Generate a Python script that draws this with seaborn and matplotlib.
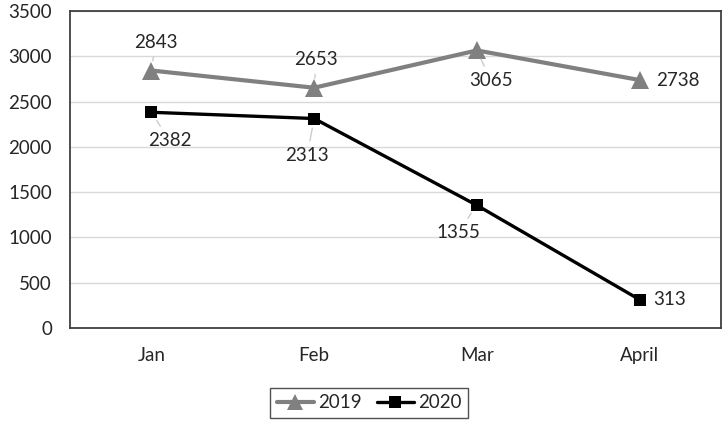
import pandas as pd
import seaborn as sns
import matplotlib.pyplot as plt

months = ["Jan", "Feb", "Mar", "April"]
values_2019 = [2843, 2653, 3065, 2738]
values_2020 = [2382, 2313, 1355, 313]

# label offsets in pixels (dx, dy), and whether a leader line is drawn
offsets_2019 = [(4, 28), (2, 28), (14, -30), (38, 0)]
leaders_2019 = [True, True, True, False]
offsets_2020 = [(18, -28), (-7, -37), (-19, -27), (30, 0)]
leaders_2020 = [True, True, True, False]

df = pd.DataFrame({
    "month": months * 2,
    "value": values_2019 + values_2020,
    "year": ["2019"] * 4 + ["2020"] * 4,
})

sns.set_theme(style="white")
plt.rcParams["font.family"] = ["Lato", "DejaVu Sans"]
FS = 13.5

fig = plt.figure(figsize=(7.22, 4.24), dpi=100)
ax = fig.add_axes([0.097, 0.2264, 0.9016, 0.7476])

palette = {"2019": "#808080", "2020": "#000000"}
sns.lineplot(data=df, x="month", y="value", hue="year", style="year",
             palette=palette, markers={"2019": "^", "2020": "s"},
             dashes=False, markersize=11, markeredgewidth=0,
             ax=ax, legend=False, sort=False)
for line, lw in zip(ax.lines, [3.0, 2.4]):
    line.set_linewidth(lw)
ax.lines[0].set_markersize(13)
ax.lines[1].set_markersize(9)

ax.set_xlim(-0.5, 3.5)
ax.set_ylim(0, 3500)
ax.set_yticks(range(0, 3501, 500))
ax.yaxis.grid(True, color="#d9d9d9", linewidth=1)
ax.set_axisbelow(True)
ax.set_xlabel("")
ax.set_ylabel("")
ax.tick_params(axis="y", length=0, pad=13, labelsize=FS, labelcolor="#262626")
ax.tick_params(axis="x", length=0, pad=14, labelsize=FS, labelcolor="#262626")
for sp in ax.spines.values():
    sp.set_visible(True)
    sp.set_color("#404040")
    sp.set_linewidth(1.3)


def label_series(vals, offs, leaders):
    for i, (v, (dx, dy), lead) in enumerate(zip(vals, offs, leaders)):
        props = None
        if lead:
            props = dict(arrowstyle="-", color="#cccccc", lw=1,
                         shrinkA=2, shrinkB=7)
        ax.annotate(str(v), xy=(i, v), xytext=(dx, dy),
                    textcoords="offset pixels", ha="center", va="center",
                    fontsize=FS, color="#262626", arrowprops=props)


label_series(values_2019, offsets_2019, leaders_2019)
label_series(values_2020, offsets_2020, leaders_2020)

h1 = plt.Line2D([], [], color="#808080", lw=3, marker="^", markersize=11, markeredgewidth=0)
h2 = plt.Line2D([], [], color="#000000", lw=2.4, marker="s", markersize=8, markeredgewidth=0)
leg = fig.legend([h1, h2], ["2019", "2020"], loc="center", bbox_to_anchor=(0.511, 0.05),
                 ncol=2, frameon=True, fancybox=False, fontsize=FS,
                 handlelength=2.0, handletextpad=0.2, columnspacing=0.8,
                 borderpad=0.35)
leg.get_frame().set_edgecolor("#262626")
leg.get_frame().set_linewidth(1.0)

fig.savefig("out.png", dpi=100)
